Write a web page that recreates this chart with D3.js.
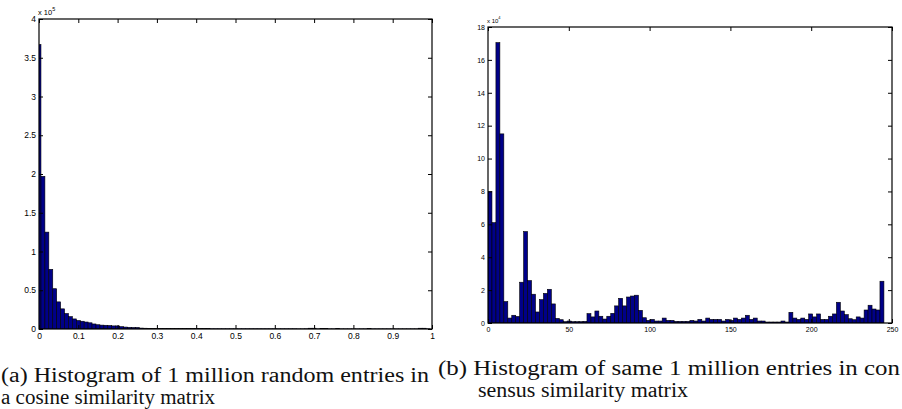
<html>
<script src="https://d3js.org/d3.v7.min.js"></script>
<body style="margin:0;background:#fff">
<svg id="myPlot" width="902" height="409" style="display:block"></svg>
<script>
// Histogram (a): counts x 10^5, bins of 0.01 over [0,1]
const cosineCounts = [3.67,1.97,1.25,0.77,0.52,0.35,0.26,0.20,0.16,0.13,
  0.11,0.10,0.09,0.08,0.065,0.055,0.05,0.048,0.045,0.04,
  0.04,0.03,0.025,0.022,0.02,0.02,0.012,0.01,0.008,0.007,
  0.006,0.006,0.005,0.005,0.005,0.005,0.004,0.004,0.004,0.004,
  0.004,0.004,0.004,0.004,0.003,0.003,0.003,0.003,0.003,0.003,
  0.003,0.003,0.003,0.003,0.003,0.003,0.003,0.003,0.003,0.003,
  0.003,0.003,0.003,0.003,0.003,0.003,0.002,0.002,0.003,0.01,
  0.01,0.002,0.008,0.008,0.002,0.002,0.006,0.002,0.002,0.002,
  0.002,0.002,0.002,0.002,0.006,0.002,0.002,0.002,0.002,0.002,
  0.002,0.002,0.002,0.002,0.002,0.002,0.002,0.01,0.01,0.002];
const cosineBinWidth = 0.01;
const cosineXTicks = [0,0.1,0.2,0.3,0.4,0.5,0.6,0.7,0.8,0.9,1];
const cosineYTicks = [0,0.5,1,1.5,2,2.5,3,3.5,4];

// Histogram (b): counts x 10^4, 100 bins over [0,245]
const consensusCounts = [8.0,6.1,17.05,11.5,1.3,0.3,0.47,0.4,2.48,5.56,
  2.58,1.75,0.67,1.42,1.8,2.05,1.16,0.28,0.2,0.08,
  0.12,0.08,0.08,0.08,0.1,0.57,0.37,0.73,0.41,0.24,
  0.41,0.59,1.04,1.5,1.04,1.58,1.64,1.69,0.77,0.32,
  0.16,0.22,0.12,0.12,0.3,0.16,0.16,0.1,0.1,0.1,
  0.1,0.16,0.12,0.22,0.12,0.3,0.22,0.22,0.22,0.12,
  0.22,0.16,0.3,0.22,0.3,0.47,0.22,0.3,0.12,0.12,
  0.06,0.06,0.06,0.06,0.12,0.06,0.65,0.3,0.22,0.3,
  0.22,0.55,0.37,0.55,0.22,0.22,0.41,0.55,1.26,0.73,
  0.51,0.26,0.2,0.37,0.3,0.79,1.08,0.85,0.79,2.54];
const consensusBinWidth = 2.45;
const consensusXTicks = [0,50,100,150,200,250];
const consensusYTicks = [0,2,4,6,8,10,12,14,16,18];

const captionA = ["(a) Histogram of 1 million random entries in", "a cosine similarity matrix"];
const captionB = ["(b) Histogram of same 1 million entries in con", "sensus similarity matrix"];

const svg = d3.select("#myPlot");

function histogram(opts) {
  const x = d3.scaleLinear().domain(opts.xDomain).range([opts.left, opts.right]);
  const y = d3.scaleLinear().domain(opts.yDomain).range([opts.bottom, opts.top]);
  const g = svg.append("g");

  g.append("clipPath").attr("id", opts.id)
    .append("rect")
    .attr("x", opts.left).attr("y", opts.top)
    .attr("width", opts.right - opts.left).attr("height", opts.bottom - opts.top);

  // Bars
  g.append("g").attr("clip-path", "url(#" + opts.id + ")")
    .selectAll("rect")
    .data(opts.counts).enter()
    .append("rect")
    .attr("x", (d, i) => x(opts.binStart(i)))
    .attr("width", (d, i) => x(opts.binStart(i) + opts.binWidth) - x(opts.binStart(i)))
    .attr("y", d => y(d))
    .attr("height", d => opts.bottom - y(d))
    .style("fill", "#000088")
    .style("stroke", "#000")
    .style("stroke-width", 0.6);

  // Axes, ticks pointing inward like MATLAB
  const fmt = d3.format("");
  g.append("g")
    .attr("transform", "translate(0," + opts.bottom + ")")
    .call(d3.axisBottom(x).tickValues(opts.xTicks).tickFormat(fmt).tickSizeInner(-opts.tick).tickSizeOuter(0).tickPadding(4));
  g.append("g")
    .attr("transform", "translate(" + opts.left + ",0)")
    .call(d3.axisLeft(y).tickValues(opts.yTicks).tickFormat(fmt).tickSizeInner(-opts.tick).tickSizeOuter(0).tickPadding(3));
  g.append("g")
    .attr("transform", "translate(0," + opts.top + ")")
    .call(d3.axisTop(x).tickValues(opts.xTicks).tickFormat("").tickSizeInner(-opts.tick).tickSizeOuter(0));
  g.append("g")
    .attr("transform", "translate(" + opts.right + ",0)")
    .call(d3.axisRight(y).tickValues(opts.yTicks).tickFormat("").tickSizeInner(-opts.tick).tickSizeOuter(0));

  g.selectAll(".domain").remove();
  g.selectAll(".tick line").style("stroke", "#000");
  g.selectAll(".tick text")
    .style("font-family", "Liberation Sans, Arial, sans-serif")
    .style("font-size", opts.font + "px")
    .style("fill", "#000");

  // Box
  g.append("rect")
    .attr("x", opts.left).attr("y", opts.top)
    .attr("width", opts.right - opts.left).attr("height", opts.bottom - opts.top)
    .style("fill", "none").style("stroke", "#000").style("stroke-width", 1.2);

  // Exponent label
  const ex = g.append("text")
    .attr("x", opts.left - 1).attr("y", opts.top - 4)
    .style("font-family", "Liberation Sans, Arial, sans-serif")
    .style("font-size", (opts.font - 1) + "px");
  ex.append("tspan").text("x 10");
  ex.append("tspan").attr("dy", -4).style("font-size", (opts.font - 3) + "px").text(opts.exponent);
}

histogram({
  id: "clipA", left: 39, right: 432, top: 19, bottom: 329,
  xDomain: [0, 1], yDomain: [0, 4],
  counts: cosineCounts, binWidth: cosineBinWidth,
  binStart: i => i * cosineBinWidth - cosineBinWidth / 2,
  xTicks: cosineXTicks, yTicks: cosineYTicks,
  tick: 4, font: 8.5, exponent: "5"
});

histogram({
  id: "clipB", left: 488, right: 892, top: 27, bottom: 323,
  xDomain: [0, 250], yDomain: [0, 18],
  counts: consensusCounts, binWidth: consensusBinWidth,
  binStart: i => i * consensusBinWidth,
  xTicks: consensusXTicks, yTicks: consensusYTicks,
  tick: 4, font: 7, exponent: "4"
});

// Captions
function caption(lines, positions) {
  lines.forEach((t, i) => {
    const p = positions[i];
    svg.append("text")
      .attr("x", p[0]).attr("y", p[1])
      .attr("textLength", p[2]).attr("lengthAdjust", "spacingAndGlyphs")
      .style("font-family", "Liberation Serif, DejaVu Serif, serif")
      .style("font-size", "20px")
      .style("fill", "#111")
      .text(t);
  });
}
caption(captionA, [[1, 382, 428], [1, 404, 214]]);
caption(captionB, [[438, 375, 462], [478, 397, 210]]);
</script>
</body>
</html>
